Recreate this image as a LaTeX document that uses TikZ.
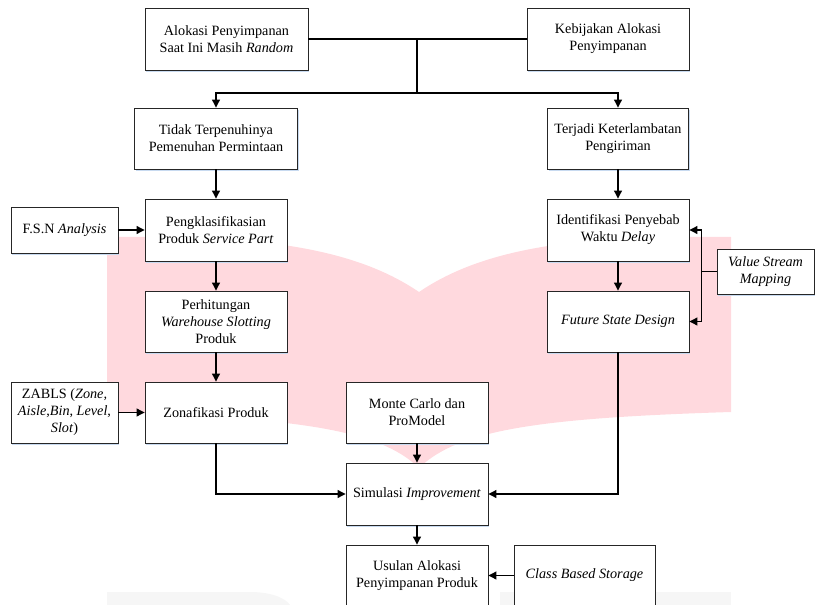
\documentclass[tikz,border=0pt]{standalone}
\usepackage{fontspec}
\setmainfont{Liberation Serif}
\usetikzlibrary{arrows.meta,shadows}
\definecolor{wmpink}{RGB}{255,217,222}
\definecolor{shadowblue}{RGB}{200,218,240}
\definecolor{wmgrey}{RGB}{246,246,246}
\begin{document}
\begin{tikzpicture}[x=1pt,y=-1pt,
  box/.style={draw=black!85, line width=0.9pt, fill=white, align=center, inner sep=2pt,
    minimum width=142pt, minimum height=61pt, font=\fontsize{14.2}{17}\selectfont,
    drop shadow={shadow xshift=1.2pt, shadow yshift=-2pt, fill=shadowblue, opacity=1}},
  arr/.style={line width=1.1pt, -{Triangle[length=8pt,width=8pt]}},
  ln/.style={line width=1.1pt}]
\path[use as bounding box] (0,0) rectangle (815,605);
% watermark
\fill[wmpink] (107,237) .. controls (250,235) and (350,245) .. (419,292) -- (419,468) .. controls (380,430) and (300,418) .. (107,412) -- cycle;
\fill[wmpink] (731,237) .. controls (588,235) and (488,245) .. (419,292) -- (419,468) .. controls (458,430) and (538,418) .. (731,412) -- cycle;
\fill[wmgrey] (107,592) -- (250,592) .. controls (275,592) and (287,600) .. (290,605) -- (107,605) -- cycle;
\fill[wmgrey] (500,592) -- (731,592) -- (731,605) -- (500,605) -- cycle;
% nodes
\node[box, minimum width=163pt, minimum height=62pt] (a1) at (226.5,39) {Alokasi Penyimpanan\\Saat Ini Masih \textit{Random}};
\node[box, minimum width=162pt, minimum height=62pt] (a2) at (608,39) {Kebijakan Alokasi\\Penyimpanan};
\node[box, minimum width=163pt] (b1) at (216,138.5) {Tidak Terpenuhinya\\Pemenuhan Permintaan};
\node[box, minimum width=141pt] (b2) at (618,138.5) {Terjadi Keterlambatan\\Pengiriman};
\node[box, minimum height=62pt] (c1) at (216,230) {Pengklasifikasian\\Produk \textit{Service Part}};
\node[box, minimum width=107pt, minimum height=46pt] (fsn) at (64.5,230) {F.S.N \textit{Analysis}};
\node[box, minimum height=62pt] (c2) at (618,230) {Identifikasi Penyebab\\Waktu \textit{Delay}};
\node[box] (d1) at (216,321.5) {Perhitungan\\\textit{Warehouse Slotting}\\Produk};
\node[box] (d2) at (618,321.5) {\textit{Future State Design}};
\node[box, minimum width=97pt, minimum height=45pt] (vsm) at (765.5,271.5) {\textit{Value Stream}\\\textit{Mapping}};
\node[box] (e1) at (216,412.5) {Zonafikasi Produk};
\node[box, minimum width=107pt] (zabls) at (64.5,412.5) {ZABLS (\textit{Zone,}\\\textit{Aisle},\textit{Bin}, \textit{Level},\\\textit{Slot})};
\node[box] (mc) at (417,412.5) {Monte Carlo dan\\ProModel};
\node[box, minimum height=62pt] (sim) at (417,494) {Simulasi \textit{Improvement}};
\node[box] (us) at (417,575.5) {Usulan Alokasi\\Penyimpanan Produk};
\node[box, minimum width=141pt] (cbs) at (584.5,575.5) {\textit{Class Based Storage}};
% connectors
\coordinate (j1) at (417,39);
\coordinate (j2) at (417,93);
\coordinate (v1) at (701.5,271.5);
\draw[ln] (a1.east) -- (a2.west);
\draw[ln] (j1) -- (j2);
\draw[arr] (j2) -| (b1.north);
\draw[arr] (j2) -| (b2.north);
\draw[arr] (b1.south) -- (c1.north);
\draw[arr] (b2.south) -- (c2.north);
\draw[arr] (fsn.east) -- (c1.west);
\draw[arr] (c1.south) -- (d1.north);
\draw[arr] (d1.south) -- (e1.north);
\draw[arr] (zabls.east) -- (e1.west);
\draw[arr] (c2.south) -- (d2.north);
\draw[ln] (vsm.west) -- (v1);
\draw[arr] (v1) |- (c2.east);
\draw[arr] (v1) |- (d2.east);
\draw[arr] (e1.south) |- (sim.west);
\draw[arr] (d2.south) |- (sim.east);
\draw[arr] (mc.south) -- (sim.north);
\draw[arr] (sim.south) -- (us.north);
\draw[arr] (cbs.west) -- (us.east);
\end{tikzpicture}
\end{document}
